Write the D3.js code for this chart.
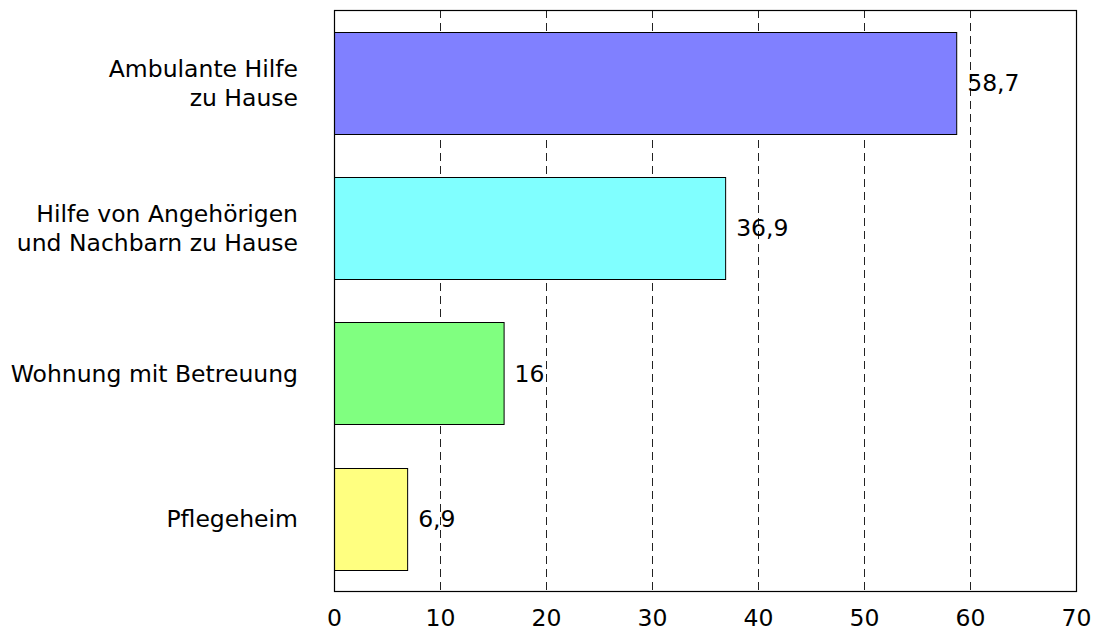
<!DOCTYPE html>
<html>
<head>
<meta charset="utf-8">
<script src="https://cdn.jsdelivr.net/npm/d3@7"></script>
<style>
  body { margin: 0; background: #fff; }
  text { font-family: "DejaVu Sans", Verdana, sans-serif; fill: #000; }
</style>
</head>
<body>
<svg id="chart" width="1093" height="631"></svg>
<script>
// chart data
const categories = [
  ["Ambulante Hilfe", "zu Hause"],
  ["Hilfe von Angehörigen", "und Nachbarn zu Hause"],
  ["Wohnung mit Betreuung"],
  ["Pflegeheim"]
];
const values = [58.7, 36.9, 16, 6.9];
const colors = ["#8080ff", "#80ffff", "#80ff80", "#ffff80"];
const xTicks = [0, 10, 20, 30, 40, 50, 60, 70];

const width = 1093;
const height = 631;
const margin = { top: 10, right: 17, bottom: 40, left: 334 };
const fs = 23.5;

const svg = d3.select("#chart");

// scales
const x = d3.scaleLinear()
  .domain([0, 70])
  .range([margin.left, width - margin.right]);

const y = d3.scaleBand()
  .domain(d3.range(categories.length))
  .range([margin.top, height - margin.bottom])
  .paddingInner(0.3)
  .paddingOuter(0.15);

// dashed gridlines
svg.append("g")
  .selectAll("line")
  .data(xTicks.slice(1, -1))
  .join("line")
  .attr("x1", d => x(d) + 0.5)
  .attr("x2", d => x(d) + 0.5)
  .attr("y1", margin.top)
  .attr("y2", height - margin.bottom)
  .attr("stroke", "#222")
  .attr("stroke-width", 1)
  .attr("stroke-dasharray", "8,5");

// bars
svg.append("g")
  .selectAll("rect")
  .data(values)
  .join("rect")
  .attr("x", x(0) + 0.5)
  .attr("y", (d, i) => Math.round(y(i)) + 0.5)
  .attr("width", d => x(d) - x(0))
  .attr("height", Math.round(y.bandwidth()))
  .attr("fill", (d, i) => colors[i])
  .attr("stroke", "#000")
  .attr("stroke-width", 1);

// value labels
svg.append("g")
  .selectAll("text")
  .data(values)
  .join("text")
  .attr("x", d => x(d) + 11)
  .attr("y", (d, i) => y(i) + y.bandwidth() / 2)
  .attr("dy", "0.36em")
  .attr("font-size", fs)
  .text(d => String(d).replace(".", ","));

// frame
svg.append("rect")
  .attr("x", margin.left + 0.5)
  .attr("y", margin.top + 0.5)
  .attr("width", width - margin.right - margin.left)
  .attr("height", height - margin.bottom - margin.top)
  .attr("fill", "none")
  .attr("stroke", "#000")
  .attr("stroke-width", 1.2);

// x axis labels
const xAxis = d3.axisBottom(x)
  .tickValues(xTicks)
  .tickSize(0)
  .tickPadding(18);

svg.append("g")
  .attr("transform", `translate(0, ${height - margin.bottom})`)
  .call(xAxis)
  .call(g => g.select(".domain").remove())
  .call(g => g.selectAll("text")
    .attr("font-size", fs)
    .attr("font-family", "DejaVu Sans, Verdana, sans-serif")
    .attr("fill", "#000"));

// category labels
const cat = svg.append("g")
  .selectAll("text")
  .data(categories)
  .join("text")
  .attr("text-anchor", "end")
  .attr("font-size", fs)
  .attr("y", (d, i) => y(i) + y.bandwidth() / 2);

cat.each(function(lines) {
  const t = d3.select(this);
  const lh = 29;
  lines.forEach((s, j) => {
    t.append("tspan")
      .attr("x", margin.left - 36)
      .attr("dy", j === 0 ? (0.36 - (lines.length - 1) / 2 * lh / fs) + "em" : lh)
      .text(s);
  });
});
</script>
</body>
</html>
